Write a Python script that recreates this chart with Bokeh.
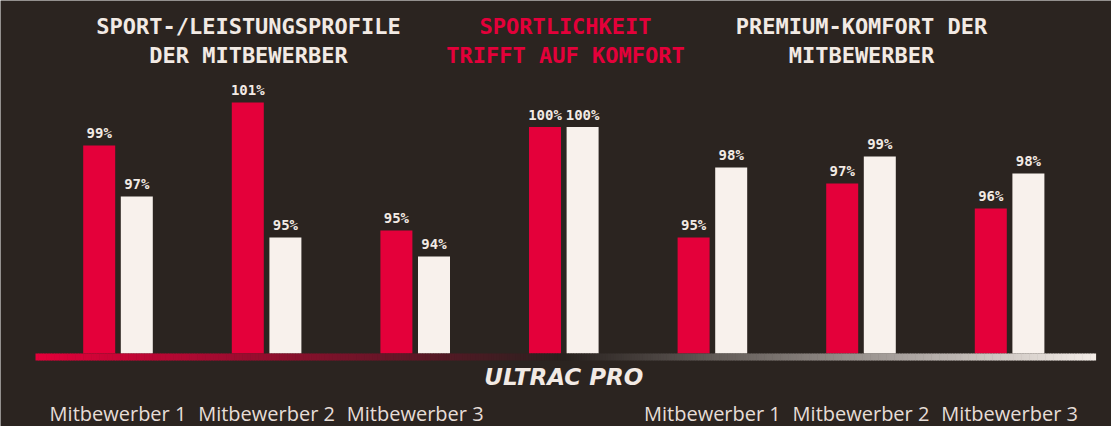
import re
import numpy as np
from bokeh.plotting import figure
from bokeh.models import Range1d
from bokeh.core.properties import value
from bokeh.embed import file_html
from bokeh.resources import INLINE

# ---------------- data ----------------
categories = ["Mitbewerber 1", "Mitbewerber 2", "Mitbewerber 3", "ULTRAC PRO",
              "Mitbewerber 1", "Mitbewerber 2", "Mitbewerber 3"]
sport_values = [99.15, 101.14, 95.2, 100.0, 94.88, 97.38, 96.23]
komfort_values = [96.78, 94.88, 94.0, 100.0, 98.13, 98.64, 97.85]
sport_labels = ["99%", "101%", "95%", "100%", "95%", "97%", "96%"]
komfort_labels = ["97%", "95%", "94%", "100%", "98%", "99%", "98%"]
section_titles = [["SPORT-/LEISTUNGSPROFILE", "DER MITBEWERBER"],
                  ["SPORTLICHKEIT", "TRIFFT AUF KOMFORT"],
                  ["PREMIUM-KOMFORT DER", "MITBEWERBER"]]

# ---------------- style / layout ----------------
BG = "#2b2420"
RED = "#e4003a"
CREAM = "#f8f1ec"
TXT = "#f2eae4"
W, H = 1111, 426
DX = 148.6      # px per group
X0 = 117.5      # px of first group centre
S = 21.56       # px per percent
BASE = 89.5     # baseline value
BL = 0.41       # baseline correction (em) for text placement

y_end = BASE + 353 / S
x_range = Range1d(-X0 / DX, (W - X0) / DX)
y_range = Range1d(y_end - H / S, y_end)


def fx(px):
    return (np.asarray(px, dtype=float) - X0) / DX


def fy(py):
    return y_end - np.asarray(py, dtype=float) / S


def tb(py, size):
    # data y for a text whose baseline should sit at screen py
    return float(fy(py - BL * size))


p = figure(width=W, height=H, x_range=x_range, y_range=y_range,
           output_backend="svg", toolbar_location=None, min_border=0,
           background_fill_color=BG, border_fill_color=BG,
           outline_line_color=None)
p.axis.visible = False
p.grid.visible = False

idx = np.arange(len(categories))
off = 18.8 / DX
bw = 32 / DX

p.vbar(x=idx - off, top=sport_values, bottom=BASE, width=bw,
       fill_color=RED, line_color=None)
p.vbar(x=idx + off, top=komfort_values, bottom=BASE, width=bw,
       fill_color=CREAM, line_color=None)

VS = 14
lab_gap = (6.5 + BL * VS) / S
for xs_, vals, labs in ((idx - off, sport_values, sport_labels),
                        (idx + off, komfort_values, komfort_labels)):
    p.text(x=xs_, y=np.array(vals) + lab_gap, text=labs,
           text_align="center", text_baseline="alphabetic",
           text_font=value("DejaVu Sans Mono"), text_font_style="bold",
           text_font_size="%dpx" % VS, text_color=TXT)

# gradient baseline
n = 400
xs = np.linspace(35, 1095, n + 1)
red = np.array([228, 0, 58], float)
dark = np.array([40, 33, 30], float)
cream = np.array([244, 237, 232], float)
cols = []
for k in range(n):
    t = (k + 0.5) / n
    if t < 0.5:
        c = red + (dark - red) * (t / 0.5)
    else:
        c = dark + (cream - dark) * ((t - 0.5) / 0.5)
    cols.append("#%02x%02x%02x" % tuple(int(round(v)) for v in c))
p.quad(left=fx(xs[:-1]), right=fx(xs[1:] + 0.6), bottom=fy(360), top=fy(353),
       fill_color=cols, line_color=None)

# category labels
CS = 20
cat_idx = [i for i in idx if i != 3]
p.text(x=cat_idx, y=[tb(421, CS)] * len(cat_idx),
       text=[categories[i] for i in cat_idx],
       text_align="center", text_baseline="alphabetic",
       text_font=value("Open Sans"), text_font_size="%dpx" % CS,
       text_color="#e6ddd7")

# logo
LS = 23
p.text(x=[3], y=[tb(385.7, LS)], text=[categories[3]],
       text_align="center", text_baseline="alphabetic",
       text_font=value("DejaVu Sans"), text_font_style="bold italic",
       text_font_size="%dpx" % LS, text_color=TXT)

# section titles
TS = 22
title_x = [fx(248), fx(565), fx(861)]
title_cols = [TXT, RED, TXT]
for tx, lines, col in zip(title_x, section_titles, title_cols):
    p.text(x=[float(tx)] * 2, y=[tb(35, TS), tb(64.3, TS)], text=lines,
           text_align="center", text_baseline="alphabetic",
           text_font=value("DejaVu Sans Mono"), text_font_style="bold",
           text_font_size="%dpx" % TS, text_color=col)

html = file_html(p, INLINE)
html = re.sub(r"<body[^>]*>",
              '<body style="background-color:%s;overflow:hidden;">' % BG, html, count=1)
open("out.html", "w").write(html)
